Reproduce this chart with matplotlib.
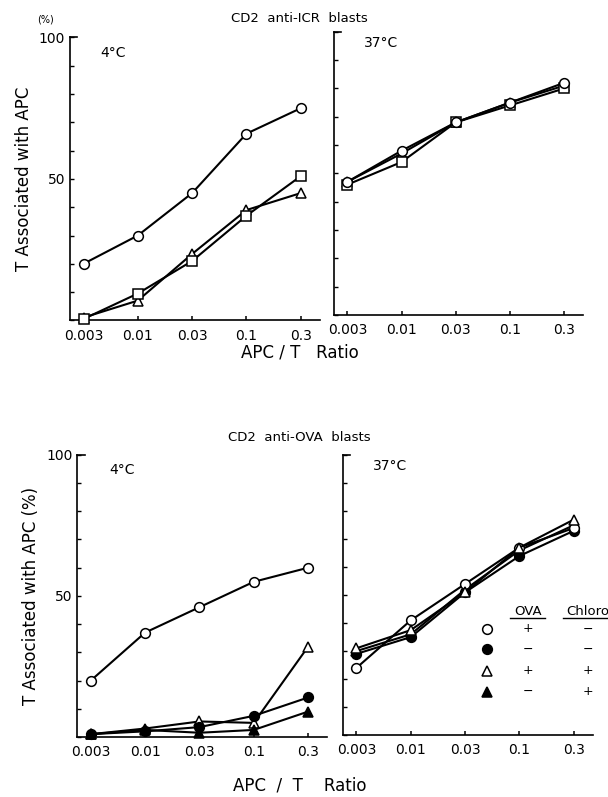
import numpy as np
import matplotlib.pyplot as plt

# --- Data ---
ratios = ["0.003", "0.01", "0.03", "0.1", "0.3"]

# CD2 anti-ICR blasts
icr_4_circle = [20, 30, 45, 66, 75]
icr_4_square = [0.5, 9.5, 21, 37, 51]
icr_4_triangle = [1, 7, 23.5, 39, 45]
icr_37_circle = [47, 58, 68, 75, 82]
icr_37_square = [46, 54, 68, 74, 80]
icr_37_triangle = [47, 57, 68, 75, 81]

# CD2 anti-OVA blasts
ova_4_open_circle = [20, 37, 46, 55, 60]
ova_4_filled_circle = [1, 2, 3.5, 7.5, 14]
ova_4_open_triangle = [1, 3, 5.5, 5, 32]
ova_4_filled_triangle = [1, 2.5, 1.5, 2.5, 9]
ova_37_open_circle = [24, 41, 54, 67, 74]
ova_37_filled_circle = [29, 35, 51, 64, 73]
ova_37_open_triangle = [31, 37.5, 51, 67, 77]
ova_37_filled_triangle = [30, 36, 52, 66, 75]

legend_rows = [("o", "white", "+", "\u2212"),
               ("o", "black", "\u2212", "\u2212"),
               ("^", "white", "+", "+"),
               ("^", "black", "\u2212", "+")]

plt.rcParams["font.family"] = ["DejaVu Sans"]

fig = plt.figure(figsize=(6.08, 7.97), dpi=100)
x = np.arange(len(ratios))


def style_axes(ax, show_ylabels):
    ax.set_xlim(-0.25, 4.35)
    ax.set_ylim(0, 100)
    for s in ["top", "right"]:
        ax.spines[s].set_visible(False)
    for s in ["left", "bottom"]:
        ax.spines[s].set_linewidth(1.2)
    ax.set_xticks(x)
    ax.set_xticklabels(ratios, fontsize=10)
    ax.tick_params(axis="x", direction="in", length=3, width=1.1, pad=6)
    ax.set_yticks([0, 50, 100])
    ax.set_yticks(np.arange(0, 101, 10), minor=True)
    ax.tick_params(axis="y", which="both", direction="in", length=3, width=1.0)
    if show_ylabels:
        ax.set_yticklabels(["", "50", "100"], fontsize=10)
    else:
        ax.set_yticklabels([])
    # bracket at the top of the y axis
    ax.plot([0, 0.03], [1, 1], transform=ax.transAxes, color="black",
            lw=1.2, clip_on=False)


def line(ax, y, marker, face, ms=7):
    ax.plot(x, y, color="black", lw=1.5, marker=marker, ms=ms,
            mfc=face, mec="black", mew=1.1, clip_on=False, zorder=3)


# --- Top panels: anti-ICR ---
ax1 = fig.add_axes([0.115, 0.598, 0.411, 0.355])
ax2 = fig.add_axes([0.549, 0.605, 0.41, 0.355])
style_axes(ax1, True)
style_axes(ax2, False)

line(ax1, icr_4_circle, "o", "white")
line(ax1, icr_4_triangle, "^", "white")
line(ax1, icr_4_square, "s", "white")
line(ax2, icr_37_triangle, "^", "white")
line(ax2, icr_37_square, "s", "white")
line(ax2, icr_37_circle, "o", "white")

ax1.text(0.12, 0.97, "4\u00b0C", transform=ax1.transAxes, fontsize=10, va="top")
ax2.text(0.12, 0.985, "37\u00b0C", transform=ax2.transAxes, fontsize=10, va="top")
ax1.set_ylabel("T Associated with APC", fontsize=12, labelpad=4)
fig.text(0.075, 0.972, "(%)", fontsize=7, ha="center")
fig.text(0.493, 0.972, "CD2  anti-ICR  blasts", fontsize=9.5, ha="center")
fig.text(0.493, 0.552, "APC / T   Ratio", fontsize=12, ha="center")

# --- Bottom panels: anti-OVA ---
ax3 = fig.add_axes([0.127, 0.0753, 0.411, 0.354])
ax4 = fig.add_axes([0.564, 0.0778, 0.411, 0.351])
style_axes(ax3, True)
style_axes(ax4, False)

line(ax3, ova_4_open_circle, "o", "white")
line(ax3, ova_4_open_triangle, "^", "white")
line(ax3, ova_4_filled_circle, "o", "black")
line(ax3, ova_4_filled_triangle, "^", "black")
line(ax4, ova_37_filled_triangle, "^", "black")
line(ax4, ova_37_filled_circle, "o", "black")
line(ax4, ova_37_open_circle, "o", "white")
line(ax4, ova_37_open_triangle, "^", "white")

ax3.text(0.13, 0.97, "4\u00b0C", transform=ax3.transAxes, fontsize=10, va="top")
ax4.text(0.12, 0.985, "37\u00b0C", transform=ax4.transAxes, fontsize=10, va="top")
ax3.set_ylabel("T Associated with APC (%)", fontsize=12, labelpad=4)
fig.text(0.493, 0.447, "CD2  anti-OVA  blasts", fontsize=9.5, ha="center")
fig.text(0.493, 0.008, "APC  /  T    Ratio", fontsize=12, ha="center")

# --- Legend table ---
ax4.text(0.74, 0.443, "OVA", transform=ax4.transAxes, fontsize=9.5,
         ha="center", va="center")
ax4.text(0.98, 0.443, "Chloro", transform=ax4.transAxes, fontsize=9.5,
         ha="center", va="center")
ax4.plot([0.67, 0.81], [0.418, 0.418], transform=ax4.transAxes, color="black", lw=1)
ax4.plot([0.88, 1.08], [0.418, 0.418], transform=ax4.transAxes, color="black",
         lw=1, clip_on=False)
row_y = [0.379, 0.307, 0.229, 0.154]
for (mk, face, ova, chl), ry in zip(legend_rows, row_y):
    ax4.plot([0.576], [ry], transform=ax4.transAxes, marker=mk, ms=7,
             mfc=face, mec="black", mew=1.1, ls="none")
    ax4.text(0.74, ry, ova, transform=ax4.transAxes, fontsize=9,
             ha="center", va="center")
    ax4.text(0.98, ry, chl, transform=ax4.transAxes, fontsize=9,
             ha="center", va="center")

plt.savefig("out.png", dpi=100)
